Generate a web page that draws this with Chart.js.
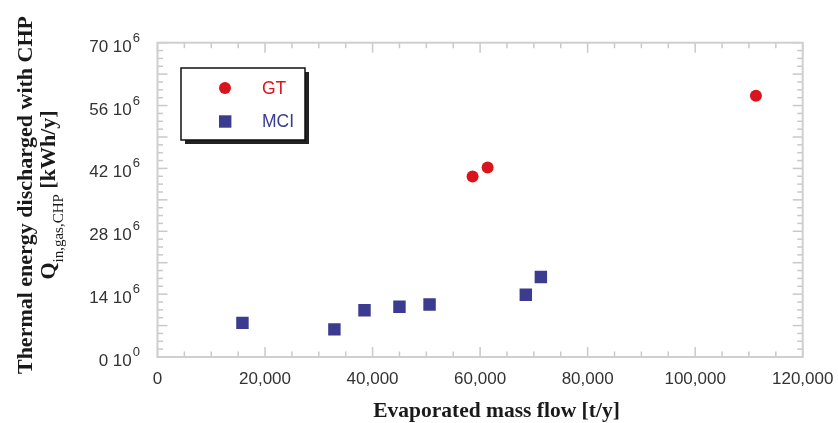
<!DOCTYPE html>
<html>
<head>
<meta charset="utf-8">
<script src="https://cdn.jsdelivr.net/npm/chart.js@4"></script>
<style>
  html, body { margin: 0; padding: 0; background: #fff; }
  #wrap { width: 838px; height: 423px; }
</style>
</head>
<body>
<div id="wrap"><canvas id="myChart"></canvas></div>
<script>
// evaporated mass flow [t/y] against thermal energy from CHP [kWh/y]
var gtFlow = [58600, 61400, 111300];
var gtEnergy = [40.2e6, 42.2e6, 58.2e6];
var mciFlow = [15800, 32900, 38500, 45000, 50600, 68500, 71300];
var mciEnergy = [7.6e6, 6.15e6, 10.4e6, 11.2e6, 11.7e6, 13.85e6, 17.8e6];

var xTicks = [0, 20000, 40000, 60000, 80000, 100000, 120000];
var xTickLabels = ['0', '20,000', '40,000', '60,000', '80,000', '100,000', '120,000'];
var yTicks = [0, 14e6, 28e6, 42e6, 56e6, 70e6];
var yTickLabels = ['0 10', '14 10', '28 10', '42 10', '56 10', '70 10'];
var yTickExp = ['0', '6', '6', '6', '6', '6'];

var RED = '#d9141c';
var BLUE = '#3b3c8f';
var SANS = '"Liberation Sans", Arial, sans-serif';
var SERIF = '"Liberation Serif", "Times New Roman", serif';

function toPoints(xs, ys) {
  return xs.map(function(x, i) { return { x: x, y: ys[i] }; });
}

function seg(ctx, x1, y1, x2, y2) {
  ctx.beginPath();
  ctx.moveTo(x1, y1);
  ctx.lineTo(x2, y2);
  ctx.stroke();
}

// grey box with inward ticks on all four sides
var frame = {
  id: 'frame',
  beforeDatasetsDraw: function(chart) {
    var ctx = chart.ctx, a = chart.chartArea;
    var xs = chart.scales.x, ys = chart.scales.y;
    ctx.save();
    ctx.strokeStyle = '#c9c9c9';
    ctx.lineWidth = 1.5;
    for (var i = 0; i <= 24; i++) {
      var px = xs.getPixelForValue(i * 5000);
      var len = i % 4 === 0 ? 10 : 5.5;
      seg(ctx, px, a.bottom, px, a.bottom - len);
      seg(ctx, px, a.top, px, a.top + len);
    }
    for (var j = 0; j <= 40; j++) {
      var py = ys.getPixelForValue(j * 1.75e6);
      var l2 = j % 4 === 0 ? 10 : 5.5;
      seg(ctx, a.left, py, a.left + l2, py);
      seg(ctx, a.right, py, a.right - l2, py);
    }
    ctx.lineWidth = 2;
    ctx.strokeStyle = '#cfcfcf';
    ctx.strokeRect(a.left, a.top, a.right - a.left, a.bottom - a.top);
    ctx.restore();
  },
  afterDraw: function(chart) {
    var ctx = chart.ctx, a = chart.chartArea;
    var xs = chart.scales.x, ys = chart.scales.y;
    ctx.save();
    ctx.fillStyle = '#333';
    ctx.textBaseline = 'alphabetic';

    // x tick labels
    ctx.font = '17px ' + SANS;
    ctx.textAlign = 'center';
    xTicks.forEach(function(v, i) {
      ctx.fillText(xTickLabels[i], xs.getPixelForValue(v), a.bottom + 26.5);
    });

    // y tick labels with power of ten
    ctx.textAlign = 'left';
    yTicks.forEach(function(v, i) {
      var py = ys.getPixelForValue(v);
      ctx.font = '13px ' + SANS;
      var ew = ctx.measureText(yTickExp[i]).width;
      ctx.font = '17px ' + SANS;
      var mw = ctx.measureText(yTickLabels[i]).width;
      var right = a.left - 17.5;
      ctx.fillText(yTickLabels[i], right - ew - mw - 1, py + 9);
      ctx.font = '13px ' + SANS;
      ctx.fillText(yTickExp[i], right - ew, py - 1);
    });

    // axis titles
    ctx.fillStyle = '#1a1a1a';
    ctx.textAlign = 'center';
    ctx.font = 'bold 21.5px ' + SERIF;
    ctx.fillText('Evaporated mass flow [t/y]', 496.5, 416.5);

    ctx.translate(32, 195);
    ctx.rotate(-Math.PI / 2);
    ctx.font = 'bold 22px ' + SERIF;
    ctx.fillText('Thermal energy discharged with CHP', 0, 0);

    // second line: Q with subscript, then the unit
    ctx.textAlign = 'left';
    ctx.font = 'bold 22px ' + SERIF;
    var wq = ctx.measureText('Q').width;
    var wu = ctx.measureText(' [kWh/y]').width;
    ctx.font = '15px ' + SERIF;
    var ws = ctx.measureText('in,gas,CHP').width;
    var u = -(wq + ws + wu) / 2;
    ctx.font = 'bold 22px ' + SERIF;
    ctx.fillText('Q', u, 22.5);
    ctx.font = '15px ' + SERIF;
    ctx.fillText('in,gas,CHP', u + wq, 30.5);
    ctx.font = 'bold 22px ' + SERIF;
    ctx.fillText(' [kWh/y]', u + wq + ws, 22.5);
    ctx.restore();

    // legend box with drop shadow
    var bx = 181, by = 68, bw = 124, bh = 72;
    ctx.save();
    ctx.fillStyle = '#222';
    ctx.fillRect(bx + 4, by + 4, bw, bh);
    ctx.fillStyle = '#fff';
    ctx.fillRect(bx, by, bw, bh);
    ctx.strokeStyle = '#111';
    ctx.lineWidth = 1.5;
    ctx.strokeRect(bx, by, bw, bh);
    ctx.font = '17.5px ' + SANS;
    ctx.textAlign = 'left';
    ctx.textBaseline = 'middle';
    chart.data.datasets.forEach(function(ds, i) {
      var cy = by + 20 + i * 33.5;
      ctx.fillStyle = ds.backgroundColor;
      if (ds.pointStyle === 'rect') {
        ctx.fillRect(bx + 38, cy - 6.2, 12.4, 12.4);
      } else {
        ctx.beginPath();
        ctx.arc(bx + 44, cy, 6, 0, Math.PI * 2);
        ctx.fill();
      }
      ctx.fillText(ds.label, bx + 81, cy + 1);
    });
    ctx.restore();
  }
};

var ctx = document.getElementById('myChart').getContext('2d');
var myChart = new Chart(ctx, {
  type: 'scatter',
  data: {
    datasets: [{
      label: 'GT',
      data: toPoints(gtFlow, gtEnergy),
      backgroundColor: RED,
      borderColor: RED,
      pointStyle: 'circle',
      pointRadius: 6,
      borderWidth: 0
    }, {
      label: 'MCI',
      data: toPoints(mciFlow, mciEnergy),
      backgroundColor: BLUE,
      borderColor: BLUE,
      pointStyle: 'rect',
      pointRadius: 8.8,
      borderWidth: 0
    }]
  },
  options: {
    responsive: true,
    maintainAspectRatio: false,
    animation: false,
    events: [],
    layout: { padding: { left: 157.5, top: 42.7, right: 35.3, bottom: 66 } },
    plugins: { legend: { display: false }, tooltip: { enabled: false } },
    scales: {
      x: { type: 'linear', display: false, min: 0, max: 120000 },
      y: { type: 'linear', display: false, min: 0, max: 70e6 }
    }
  },
  plugins: [frame]
});
</script>
</body>
</html>
